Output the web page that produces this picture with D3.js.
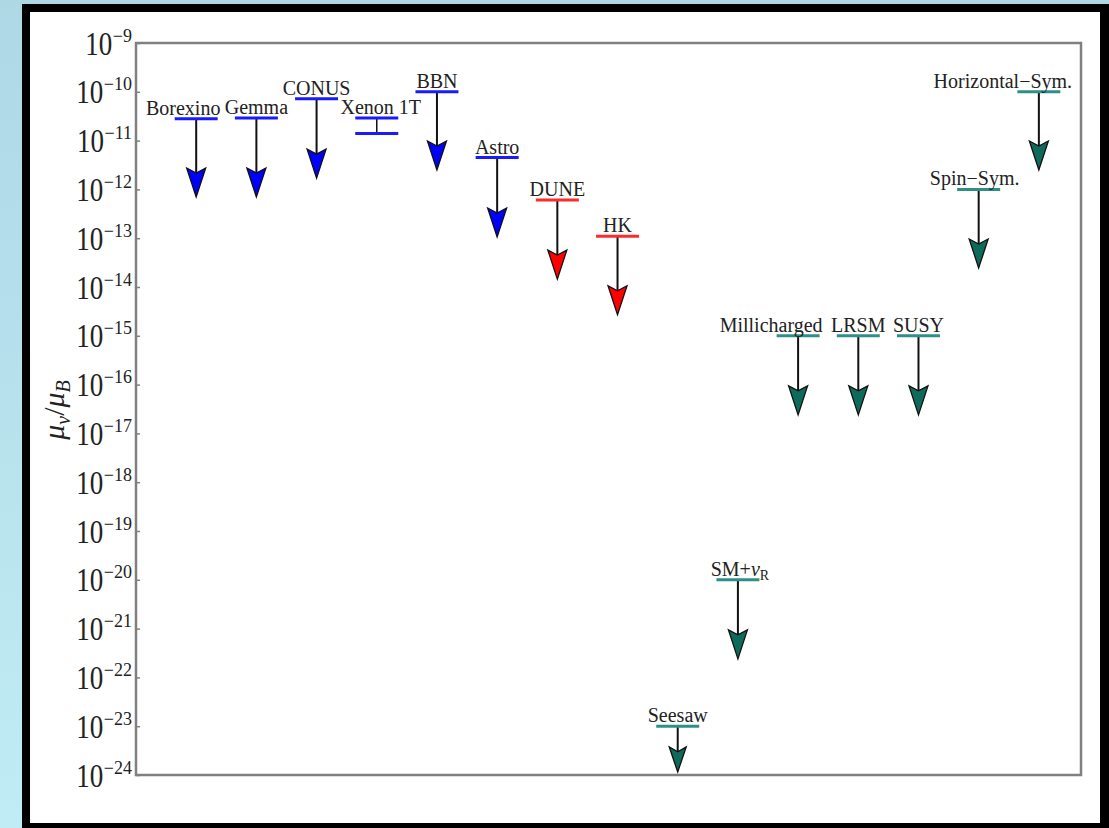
<!DOCTYPE html>
<html><head><meta charset="utf-8">
<script src="https://cdn.jsdelivr.net/npm/d3@7"></script>
<style>html,body{margin:0;padding:0;overflow:hidden;}svg{display:block;}</style>
</head><body>
<svg id="c" width="1109" height="828"></svg>
<script>
// ---- data ----
const categories = ["Borexino","Gemma","CONUS","Xenon 1T","BBN","Astro","DUNE","HK","Seesaw","SM+νR","Millicharged","LRSM","SUSY","Spin−Sym.","Horizontal−Sym."];
const upperLimits = [2.8e-11, 2.9e-11, 7.2e-11, 2.9e-11, 1.0e-10, 4.5e-12, 6.1e-13, 1.1e-13, 1.0e-23, 1.0e-20, 1.0e-15, 1.0e-15, 1.0e-15, 1.0e-12, 1.0e-10];
const lowerLimits = [null, null, null, 1.4e-11, null, null, null, null, null, null, null, null, null, null, null];
const arrowTips   = [7.0e-13, 7.0e-13, 1.7e-12, null, 2.5e-12, 1.06e-13, 1.45e-14, 2.7e-15, 1.15e-24, 2.4e-22, 2.4e-17, 2.4e-17, 2.4e-17, 2.45e-14, 2.5e-12];
const groups      = ["exp","exp","exp","exp","exp","exp","future","future","theory","theory","theory","theory","theory","theory","theory"];
const yTickExponents = [-9,-10,-11,-12,-13,-14,-15,-16,-17,-18,-19,-20,-21,-22,-23,-24];

// ---- styles ----
const barColor  = {exp:"#1a1aff", future:"#ff2a2a", theory:"#2f8f88"};
const headColor = {exp:"#0000ff", future:"#ff0000", theory:"#0e6b5b"};
const labelDx = {"Borexino":-13, "Millicharged":-27, "Horizontal−Sym.":-36, "Spin−Sym.":-4, "Xenon 1T":4, "SM+νR":2};
const serif = "'Liberation Serif', 'DejaVu Serif', serif";

const svg = d3.select("#c");
const defs = svg.append("defs");
const g0 = defs.append("linearGradient").attr("id","bg").attr("x1",0).attr("y1",0).attr("x2",0).attr("y2",1);
g0.append("stop").attr("offset","0%").attr("stop-color","#aed8e4");
g0.append("stop").attr("offset","100%").attr("stop-color","#c0ecf5");
svg.append("rect").attr("width",1109).attr("height",828).attr("fill","url(#bg)");
svg.append("rect").attr("x",22).attr("y",4).attr("width",1087).attr("height",824).attr("fill","#000");
svg.append("rect").attr("x",30).attr("y",12).attr("width",1070).attr("height",811).attr("fill","#fff");

const L=136, R=1081, T=43, B=775;
const x = d3.scaleLinear().domain([-1, 14.7]).range([L, R]);
const y = d3.scaleLog().domain([1e-24, 1e-9]).range([B, T]);

// frame
svg.append("rect").attr("x",L).attr("y",T).attr("width",R-L).attr("height",B-T)
  .attr("fill","none").attr("stroke","#808080").attr("stroke-width",2.5);

// y axis
const yAxis = d3.axisLeft(y).tickValues(yTickExponents.map(e=>Math.pow(10,e))).tickSize(-4).tickFormat("");
const ax = svg.append("g").attr("transform",`translate(${L},0)`).call(yAxis);
ax.select(".domain").remove();
ax.selectAll(".tick line").attr("stroke","#808080").attr("stroke-width",1.5);
ax.selectAll(".tick").each(function(d,i){
  const tk = d3.select(this);
  const sup = tk.append("text").attr("x",-4).attr("y",-2).attr("text-anchor","end").attr("fill","#222")
    .style("font-family",serif).attr("font-size",18).text("−" + Math.abs(yTickExponents[i]));
  const w = sup.node().getComputedTextLength();
  tk.append("text").attr("text-anchor","end").attr("fill","#222")
    .attr("transform",`translate(${-4 - w - 0.5},11) scale(1,1.25)`)
    .style("font-family",serif).attr("font-size",27).text("10");
});

// y label
const yl = svg.append("text").attr("transform","translate(64,410) rotate(-90)")
  .attr("text-anchor","middle").attr("fill","#222")
  .style("font-family",serif).style("font-style","italic").attr("font-size",30);
yl.append("tspan").text("μ");
yl.append("tspan").attr("font-size",20).attr("dy",6).text("ν");
yl.append("tspan").attr("dy",-6).attr("font-style","normal").text("/");
yl.append("tspan").text("μ");
yl.append("tspan").attr("font-size",20).attr("dy",6).text("B");

const data = categories.map((c,i)=>({c,i,up:upperLimits[i],lo:lowerLimits[i],tip:arrowTips[i],g:groups[i]}));
const hw = 21.5;
const marks = svg.append("g");
data.forEach(d=>{
  const cx = x(d.i);
  const yu = y(d.up);
  const gg = marks.append("g");
  if (d.tip !== null) {
    const yt = y(d.tip);
    const total = yt - yu;
    const hl = Math.min(29, total*0.55);
    const hwid = hl < 29 ? 8.5 : 9.5;
    gg.append("line").attr("x1",cx).attr("x2",cx).attr("y1",yu).attr("y2",yt-hl+5)
      .attr("stroke","#111").attr("stroke-width",2);
    gg.append("path").attr("d",`M${cx},${yt} L${cx-hwid},${yt-hl} L${cx},${yt-hl+5} L${cx+hwid},${yt-hl} Z`)
      .attr("fill",headColor[d.g]).attr("stroke","#111").attr("stroke-width",1.3).attr("stroke-linejoin","miter");
  }
  if (d.lo !== null) {
    const yb = y(d.lo);
    gg.append("line").attr("x1",cx).attr("x2",cx).attr("y1",yu).attr("y2",yb).attr("stroke","#111").attr("stroke-width",1.5);
    gg.append("line").attr("x1",cx-hw).attr("x2",cx+hw).attr("y1",yb).attr("y2",yb)
      .attr("stroke",barColor[d.g]).attr("stroke-width",3);
  }
  gg.append("line").attr("x1",cx-hw).attr("x2",cx+hw).attr("y1",yu).attr("y2",yu)
    .attr("stroke",barColor[d.g]).attr("stroke-width",3);
  const lx = cx + (labelDx[d.c] || 0);
  const txt = gg.append("text").attr("x",lx).attr("y",yu-4).attr("text-anchor","middle").attr("fill","#222")
    .style("font-family",serif).attr("font-size",20);
  if (d.c === "SM+νR") {
    txt.append("tspan").text("SM+");
    txt.append("tspan").attr("font-style","italic").text("ν");
    txt.append("tspan").attr("font-size",14).attr("dy",4).text("R");
  } else {
    txt.text(d.c);
  }
});
</script>
</body></html>
